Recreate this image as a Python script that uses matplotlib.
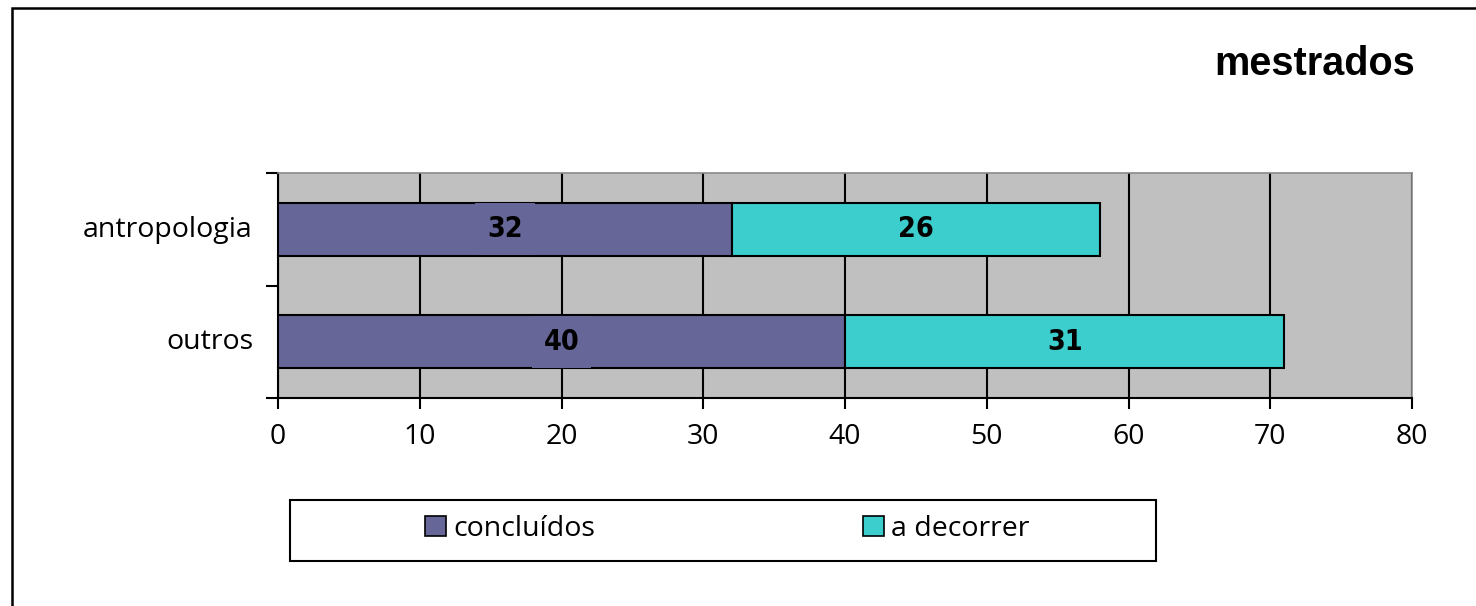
import matplotlib
matplotlib.use("Agg")
import matplotlib.pyplot as plt
from matplotlib.patches import Rectangle, Patch
from matplotlib.transforms import ScaledTranslation
import numpy as np

categories = ["antropologia", "outros"]
concluidos = [32, 40]
a_decorrer = [26, 31]
series_names = ["concluídos", "a decorrer"]
x_ticks = [0, 10, 20, 30, 40, 50, 60, 70, 80]
title = "mestrados"

c_purple = "#666699"
c_cyan = "#3CCDCD"
c_bg = "#C0C0C0"

W, H = 1476, 606
fig = plt.figure(figsize=(W / 100, H / 100), dpi=100)
fig.patch.set_facecolor("white")

ax = fig.add_axes([278 / W, 1 - 398 / H, (1412 - 278) / W, (398 - 173) / H])
ax.set_facecolor(c_bg)

ypos = np.arange(len(categories))[::-1]  # antropologia on top
bh = 0.47
b1 = ax.barh(ypos, concluidos, height=bh, color=c_purple, edgecolor="black", linewidth=1.5, zorder=3)
b2 = ax.barh(ypos, a_decorrer, left=concluidos, height=bh, color=c_cyan, edgecolor="black", linewidth=1.5, zorder=3)

lab_font = dict(family="DejaVu Sans", stretch="condensed", weight="bold", size=20.5)
for yp, v in zip(ypos, concluidos):
    ax.text(v / 2, yp, str(v), ha="center", va="center", zorder=5, **lab_font,
            bbox=dict(boxstyle="square,pad=0.42", facecolor=c_purple, edgecolor="none"))
for yp, l, v in zip(ypos, concluidos, a_decorrer):
    ax.text(l + v / 2, yp, str(v), ha="center", va="center", zorder=5, **lab_font)

tick_font = dict(family="Open Sans", size=20.5)
ax.set_xlim(0, 80)
ax.set_ylim(-0.5, len(categories) - 0.5)
ax.set_xticks(x_ticks)
ax.set_xticklabels([str(t) for t in x_ticks], **tick_font)
ax.xaxis.grid(True, color="black", linewidth=1.5, zorder=1)
ax.set_axisbelow(True)

ax.set_yticks(np.arange(-0.5, len(categories), 1.0))
ax.set_yticklabels([])
ax.set_yticks(ypos, minor=True)
ax.set_yticklabels(categories, minor=True, **tick_font)
ax.tick_params(axis="y", which="major", length=9, width=1.5, direction="out")
ax.tick_params(axis="y", which="minor", length=0, pad=18)
ax.tick_params(axis="x", length=8, width=1.5, direction="out", pad=10)
up = ScaledTranslation(0, 3 / 100, fig.dpi_scale_trans)
for lbl in ax.get_yticklabels(minor=True):
    lbl.set_transform(lbl.get_transform() + up)

for s in ["left", "bottom"]:
    ax.spines[s].set_color("black")
    ax.spines[s].set_linewidth(1.5)
for s in ["top", "right"]:
    ax.spines[s].set_color("#8a8a8a")
    ax.spines[s].set_linewidth(1.2)

fig.text(1415 / W, 1 - 75 / H, title, ha="right", va="baseline",
         family="Liberation Sans", weight="bold", fontsize=28.5)

# outer border (cropped on right/bottom)
fig.patches.append(Rectangle((12 / W, -0.2), 1.5, 1 - 8 / H + 0.2, transform=fig.transFigure,
                             fill=False, edgecolor="black", linewidth=1.8))
# legend frame
fig.patches.append(Rectangle((290 / W, 1 - 561 / H), (1156 - 290) / W, (561 - 500) / H,
                             transform=fig.transFigure, fill=False, edgecolor="black", linewidth=1.5))

handles = [Patch(facecolor=c_purple, edgecolor="black", linewidth=1.2),
           Patch(facecolor=c_cyan, edgecolor="black", linewidth=1.2)]
fig.legend(handles, series_names, loc="center", bbox_to_anchor=(727 / W, 1 - 529 / H),
           ncol=2, frameon=False, prop=tick_font,
           handlelength=0.74, handleheight=0.74, handletextpad=0.25, columnspacing=9.4,
           borderpad=0)

fig.savefig("out.png", dpi=100)
